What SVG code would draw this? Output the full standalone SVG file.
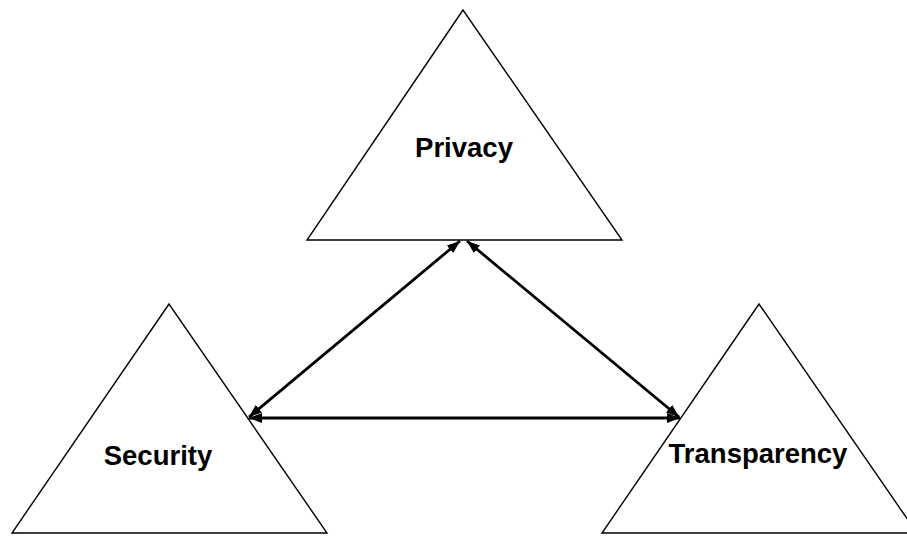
<svg xmlns="http://www.w3.org/2000/svg" width="907" height="536" viewBox="0 0 907 536">
<style>
.tri{fill:#fff;stroke:#000;stroke-width:1.4}
.lbl{font-family:"Liberation Sans",Arial,sans-serif;font-weight:bold;font-size:27.5px;text-anchor:middle;fill:#000}
.conn{stroke:#000;stroke-width:2.8;fill:none;marker-start:url(#ah);marker-end:url(#ah)}
</style>
<defs>
<marker id="ah" viewBox="0 0 13 10" refX="13" refY="5" markerWidth="13" markerHeight="10" markerUnits="userSpaceOnUse" orient="auto-start-reverse">
<path d="M0,0 L13,5 L0,10 Z" fill="#000"/>
</marker>
</defs>
<rect width="907" height="536" fill="#fff"/>
<g id="privacy">
<polygon class="tri" points="463,10 307,240 622,240"/>
<text class="lbl" x="464" y="157">Privacy</text>
</g>
<g id="security">
<polygon class="tri" points="169,304 12,533 327,533"/>
<text class="lbl" x="158" y="465">Security</text>
</g>
<g id="transparency">
<polygon class="tri" points="759,304 602,533 917,533"/>
<text class="lbl" x="758" y="463">Transparency</text>
</g>
<g id="connectors">
<line class="conn" x1="249" y1="417" x2="460" y2="241"/>
<line class="conn" x1="679" y1="417" x2="467" y2="241"/>
<line class="conn" x1="249" y1="418" x2="680" y2="418"/>
</g>
</svg>
